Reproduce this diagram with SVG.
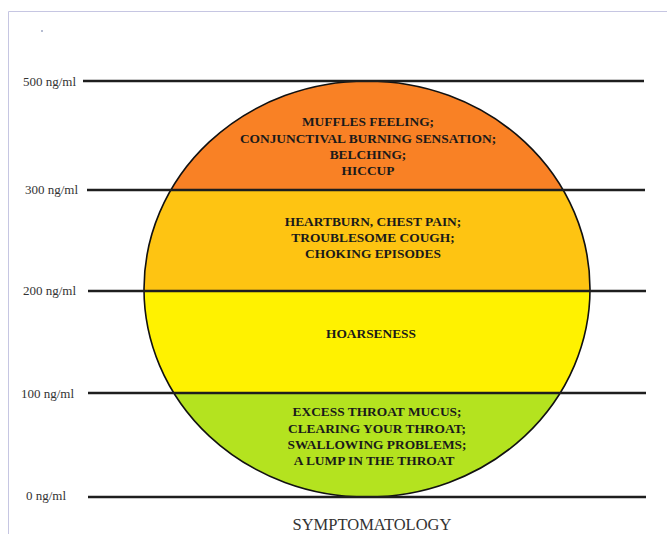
<svg xmlns="http://www.w3.org/2000/svg" width="667" height="534" viewBox="0 0 667 534">
<style>
.lbl{font-family:"Liberation Serif","Times New Roman",serif;font-size:13px;fill:#333}
.t{font-family:"Liberation Serif","Times New Roman",serif;font-size:13.4px;font-weight:bold;fill:#1a1a1a;text-anchor:middle}
.lvl{stroke:#1e1e1e;stroke-width:2.5;fill:none}
</style>
<defs>
<clipPath id="ell"><ellipse cx="367" cy="289" rx="223" ry="208"/></clipPath>
</defs>
<rect width="667" height="534" fill="#fff"/>
<path d="M8.5 534 V11.5 H667" fill="none" stroke="#c6c6e2" stroke-width="1"/>
<circle cx="42" cy="31" r="0.8" fill="#5a6a9a"/>
<g id="bands" clip-path="url(#ell)">
<rect x="140" y="78" width="460" height="112" fill="#F98125"/>
<rect x="140" y="190" width="460" height="101" fill="#FEC412"/>
<rect x="140" y="291" width="460" height="102" fill="#FFF200"/>
<rect x="140" y="393" width="460" height="106" fill="#B4E31F"/>
</g>
<ellipse id="outline" cx="367" cy="289" rx="223" ry="208" fill="none" stroke="#111" stroke-width="1.6"/>
<g id="levels">
<line class="lvl" x1="83" y1="81" x2="644" y2="81"/>
<line class="lvl" x1="87" y1="190" x2="645" y2="190"/>
<line class="lvl" x1="88" y1="291" x2="646" y2="291"/>
<line class="lvl" x1="88" y1="393" x2="646" y2="393"/>
<line class="lvl" x1="88" y1="497" x2="646" y2="497"/>
</g>
<g id="labels">
<text class="lbl" x="23" y="86">500 ng/ml</text>
<text class="lbl" x="25" y="194">300 ng/ml</text>
<text class="lbl" x="23" y="295">200 ng/ml</text>
<text class="lbl" x="21" y="398">100 ng/ml</text>
<text class="lbl" x="26" y="500">0 ng/ml</text>
</g>
<g id="band500">
<text class="t" x="368" y="126">MUFFLES FEELING;</text>
<text class="t" x="368" y="143">CONJUNCTIVAL BURNING SENSATION;</text>
<text class="t" x="368" y="159">BELCHING;</text>
<text class="t" x="368" y="175">HICCUP</text>
</g>
<g id="band300">
<text class="t" x="373" y="226">HEARTBURN, CHEST PAIN;</text>
<text class="t" x="373" y="242">TROUBLESOME COUGH;</text>
<text class="t" x="373" y="258">CHOKING EPISODES</text>
</g>
<g id="band200">
<text class="t" x="371" y="338">HOARSENESS</text>
</g>
<g id="band100">
<text class="t" x="377" y="416">EXCESS THROAT MUCUS;</text>
<text class="t" x="377" y="433">CLEARING YOUR THROAT;</text>
<text class="t" x="377" y="449">SWALLOWING PROBLEMS;</text>
<text class="t" x="374" y="465">A LUMP IN THE THROAT</text>
</g>
<text id="title" x="372" y="530" style="font-family:'Liberation Serif','Times New Roman',serif;font-size:16.5px;fill:#333;text-anchor:middle">SYMPTOMATOLOGY</text>
</svg>
